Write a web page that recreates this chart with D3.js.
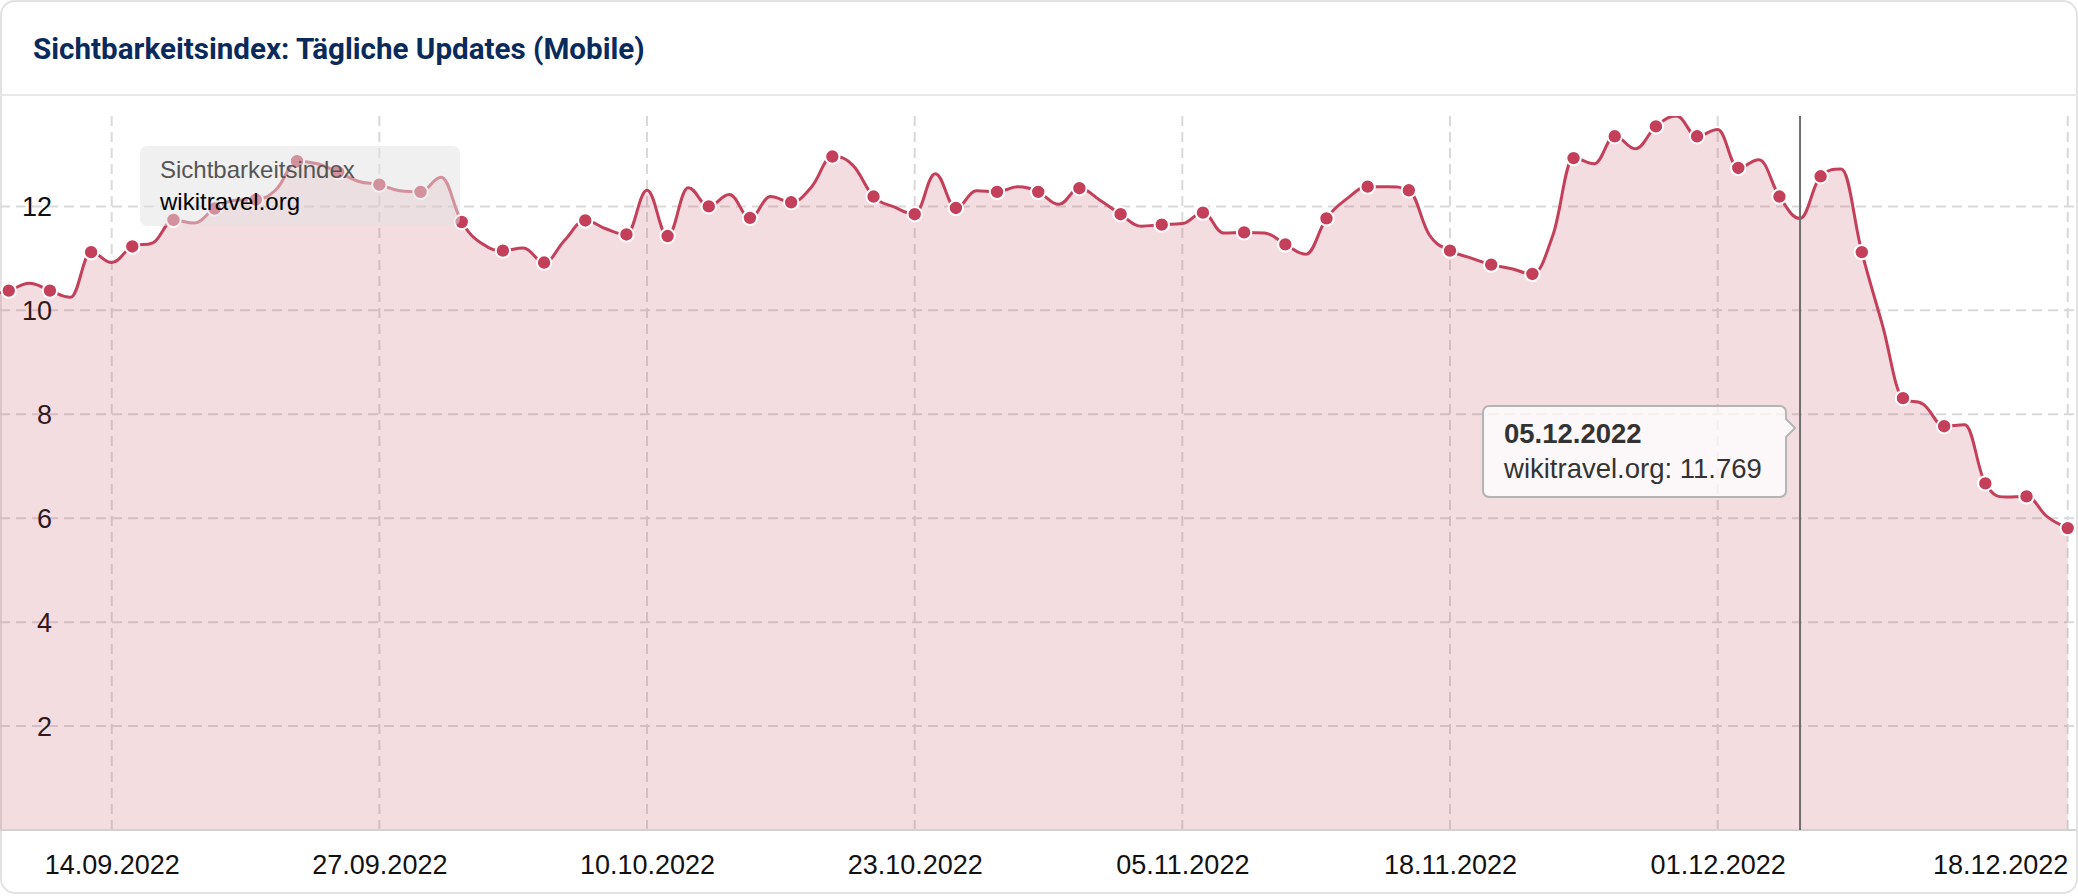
<!DOCTYPE html>
<html>
<head>
<meta charset="utf-8">
<script src="https://cdn.jsdelivr.net/npm/d3@7"></script>
<style>
  html, body { margin: 0; padding: 0; background: #ffffff; }
  svg { display: block; }
</style>
</head>
<body>
<svg id="chart" width="2078" height="896"></svg>
<script>
// ---------------- DATA ----------------
const chartTitle = "Sichtbarkeitsindex: Tägliche Updates (Mobile)";
const legendTitle = "Sichtbarkeitsindex";
const seriesName = "wikitravel.org";
const startDate = "08.09.2022";           // first daily value
const values = [
  10.30, 10.38, 10.52, 10.38, 10.25, 11.12, 10.92, 11.23, 11.30, 11.74,
  11.68, 11.96, 12.12, 12.13, 12.33, 12.87, 12.82, 12.66, 12.48, 12.42,
  12.30, 12.28, 12.56, 11.70, 11.28, 11.15, 11.20, 10.92, 11.35, 11.73,
  11.57, 11.46, 12.31, 11.43, 12.36, 12.00, 12.23, 11.78, 12.19, 12.08,
  12.38, 12.96, 12.79, 12.19, 11.99, 11.85, 12.63, 11.97, 12.30, 12.28,
  12.38, 12.28, 12.04, 12.35, 12.12, 11.85, 11.62, 11.65, 11.67, 11.88,
  11.49, 11.50, 11.49, 11.27, 11.08, 11.77, 12.15, 12.38, 12.38, 12.31,
  11.45, 11.15, 11.01, 10.88, 10.80, 10.70, 11.45, 12.93, 12.82, 13.35,
  13.11, 13.54, 13.74, 13.35, 13.48, 12.74, 12.90, 12.19, 11.769, 12.58,
  12.72, 11.12, 9.72, 8.31, 8.19, 7.77, 7.80, 6.67, 6.41, 6.42,
  6.03, 5.81
];
const xTickLabels = ["14.09.2022", "27.09.2022", "10.10.2022", "23.10.2022",
                     "05.11.2022", "18.11.2022", "01.12.2022", "18.12.2022"];
const yTickValues = [2, 4, 6, 8, 10, 12];
const tooltipDate = "05.12.2022";

// ---------------- SETUP ----------------
const W = 2078, H = 896;
const plot = { left: 0, right: 2076, top: 116, bottom: 830 };
const parse = d3.utcParse("%d.%m.%Y");
const fmtDate = d3.utcFormat("%d.%m.%Y");
const start = parse(startDate);
const data = values.map((v, i) => ({ date: d3.utcDay.offset(start, i), value: v, i }));
const markerData = data.filter(d => d.i % 2 === 1);

const x = d3.scaleUtc()
  .domain([parse(xTickLabels[0]), parse(xTickLabels[xTickLabels.length - 1])])
  .range([111.7, 2067.7]);
const y = d3.scaleLinear()
  .domain([0, d3.max(values)])
  .range([plot.bottom, plot.top]);

const RED = "#c4405a";
const FONT = "'Liberation Sans', Arial, Helvetica, sans-serif";

// Highcharts-like spline curve (smoothing 1.5, no false extremes)
function HCSpline(context) { this._context = context; }
HCSpline.prototype = {
  areaStart() { this._line = 0; },
  areaEnd() { this._line = NaN; },
  lineStart() { this._xs = []; this._ys = []; },
  point(px, py) { this._xs.push(+px); this._ys.push(+py); },
  lineEnd() {
    const xs = this._xs, ys = this._ys, n = xs.length, ctx = this._context;
    if (n) {
      if (this._line) ctx.lineTo(xs[0], ys[0]); else ctx.moveTo(xs[0], ys[0]);
      const L = new Array(n), R = new Array(n);
      for (let i = 0; i < n; i++) {
        if (i === 0 || i === n - 1) { L[i] = [xs[i], ys[i]]; R[i] = [xs[i], ys[i]]; continue; }
        const sm = 1.5, den = sm + 1;
        const px = xs[i], py = ys[i];
        const lx = xs[i - 1], ly = ys[i - 1], nx = xs[i + 1], ny = ys[i + 1];
        const lcx = (sm * px + lx) / den, rcx = (sm * px + nx) / den;
        let lcy = (sm * py + ly) / den, rcy = (sm * py + ny) / den;
        const corr = ((rcy - lcy) * (rcx - px)) / (rcx - lcx) + py - rcy;
        lcy += corr; rcy += corr;
        if (lcy > ly && lcy > py) { lcy = Math.max(ly, py); rcy = 2 * py - lcy; }
        else if (lcy < ly && lcy < py) { lcy = Math.min(ly, py); rcy = 2 * py - lcy; }
        if (rcy > ny && rcy > py) { rcy = Math.max(ny, py); lcy = 2 * py - rcy; }
        else if (rcy < ny && rcy < py) { rcy = Math.min(ny, py); lcy = 2 * py - rcy; }
        L[i] = [lcx, lcy]; R[i] = [rcx, rcy];
      }
      for (let i = 1; i < n; i++) {
        ctx.bezierCurveTo(R[i - 1][0], R[i - 1][1], L[i][0], L[i][1], xs[i], ys[i]);
      }
    }
    if (this._line || (this._line !== 0 && n === 1)) ctx.closePath();
    this._line = 1 - this._line;
  }
};
const hcSpline = ctx => new HCSpline(ctx);

// ---------------- DRAW ----------------
const svg = d3.select("#chart");

svg.append("defs").append("clipPath").attr("id", "plotClip")
  .append("rect")
  .attr("x", plot.left).attr("y", plot.top)
  .attr("width", plot.right - plot.left).attr("height", plot.bottom - plot.top);

// card
svg.append("rect")
  .attr("x", 1).attr("y", 1).attr("width", W - 2).attr("height", H - 4)
  .attr("rx", 14).attr("fill", "#ffffff")
  .attr("stroke", "#e2e2e2").attr("stroke-width", 2);

// title
svg.append("text")
  .attr("x", 33).attr("y", 59)
  .attr("font-family", "Roboto, 'Noto Sans', sans-serif")
  .attr("font-weight", 700).attr("font-size", 29.6)
  .attr("fill", "#0b2a5c")
  .text(chartTitle);
svg.append("line")
  .attr("x1", 0).attr("x2", W).attr("y1", 95).attr("y2", 95)
  .attr("stroke", "#e8e8e8").attr("stroke-width", 2);

// grid
const grid = svg.append("g");
grid.selectAll("line.h").data(yTickValues).join("line")
  .attr("class", "h")
  .attr("x1", plot.left).attr("x2", plot.right)
  .attr("y1", d => y(d)).attr("y2", d => y(d))
  .attr("stroke", "#d9d9d9").attr("stroke-width", 2)
  .attr("stroke-dasharray", "10,6");
grid.selectAll("line.v").data(xTickLabels).join("line")
  .attr("class", "v")
  .attr("x1", d => x(parse(d))).attr("x2", d => x(parse(d)))
  .attr("y1", plot.top).attr("y2", plot.bottom)
  .attr("stroke", "#d9d9d9").attr("stroke-width", 2)
  .attr("stroke-dasharray", "10,6");

// y axis labels (under the area fill)
const yAxis = d3.axisLeft(y).tickValues(yTickValues).tickSize(0).tickPadding(0)
  .tickFormat(d3.format("d"));
const yG = svg.append("g").attr("transform", "translate(52,0)").call(yAxis);
yG.select(".domain").remove();
yG.selectAll("text")
  .attr("font-family", FONT).attr("font-size", 27)
  .attr("fill", "#111111").attr("dy", "0.34em");

// area + line
const series = svg.append("g").attr("clip-path", "url(#plotClip)");
series.append("path").datum(data)
  .attr("d", d3.area().x(d => x(d.date)).y0(plot.bottom).y1(d => y(d.value)).curve(hcSpline))
  .attr("fill", RED).attr("fill-opacity", 0.18);

// axis line
svg.append("line")
  .attr("x1", plot.left).attr("x2", plot.right)
  .attr("y1", plot.bottom).attr("y2", plot.bottom)
  .attr("stroke", "#d2d2d2").attr("stroke-width", 2);

// crosshair
const tipDate = parse(tooltipDate);
const tipPoint = data.find(d => +d.date === +tipDate);
svg.append("line")
  .attr("x1", x(tipDate)).attr("x2", x(tipDate))
  .attr("y1", plot.top).attr("y2", plot.bottom)
  .attr("stroke", "#6e6e6e").attr("stroke-width", 2);

series.append("path").datum(data)
  .attr("d", d3.line().x(d => x(d.date)).y(d => y(d.value)).curve(hcSpline))
  .attr("fill", "none").attr("stroke", RED).attr("stroke-width", 3);

series.selectAll("circle").data(markerData).join("circle")
  .attr("cx", d => x(d.date)).attr("cy", d => y(d.value))
  .attr("r", 7.2).attr("fill", RED)
  .attr("stroke", "#ffffff").attr("stroke-width", 2);

// x axis labels
const xAxis = d3.axisBottom(x).tickValues(xTickLabels.map(parse)).tickSize(0).tickPadding(0)
  .tickFormat(fmtDate);
const xG = svg.append("g").attr("transform", `translate(0,${plot.bottom})`).call(xAxis);
xG.select(".domain").remove();
xG.selectAll("text")
  .attr("font-family", FONT).attr("font-size", 27)
  .attr("fill", "#111111").attr("y", 44).attr("dy", 0)
  .attr("text-anchor", (d, i) => i === xTickLabels.length - 1 ? "end" : "middle");

// legend box (semi-transparent over the series)
const lg = svg.append("g");
lg.append("rect")
  .attr("x", 140).attr("y", 146).attr("width", 320).attr("height", 80).attr("rx", 7)
  .attr("fill", "#e2e2e2").attr("fill-opacity", 0.5);
lg.append("text").attr("x", 160).attr("y", 178)
  .attr("font-family", FONT).attr("font-size", 24).attr("fill", "#555555")
  .text(legendTitle);
lg.append("text").attr("x", 160).attr("y", 210)
  .attr("font-family", FONT).attr("font-size", 24).attr("fill", "#000000")
  .text(seriesName);

// tooltip
const tx = x(tipDate);
const bx1 = tx - 317, bx2 = tx - 14, by1 = 406, by2 = 497, r = 6, ay = 428;
const tipPath = d3.path();
tipPath.moveTo(bx1 + r, by1);
tipPath.lineTo(bx2 - r, by1);
tipPath.arcTo(bx2, by1, bx2, by1 + r, r);
tipPath.lineTo(bx2, ay - 9);
tipPath.lineTo(bx2 + 9, ay);
tipPath.lineTo(bx2, ay + 9);
tipPath.lineTo(bx2, by2 - r);
tipPath.arcTo(bx2, by2, bx2 - r, by2, r);
tipPath.lineTo(bx1 + r, by2);
tipPath.arcTo(bx1, by2, bx1, by2 - r, r);
tipPath.lineTo(bx1, by1 + r);
tipPath.arcTo(bx1, by1, bx1 + r, by1, r);
tipPath.closePath();
const tg = svg.append("g");
tg.append("path").attr("d", tipPath.toString())
  .attr("fill", "#ffffff").attr("fill-opacity", 0.75)
  .attr("stroke", "#b4b4b4").attr("stroke-width", 2);
tg.append("text").attr("x", bx1 + 21).attr("y", 443)
  .attr("font-family", FONT).attr("font-size", 27.5).attr("font-weight", 700)
  .attr("fill", "#333333").text(fmtDate(tipDate));
tg.append("text").attr("x", bx1 + 21).attr("y", 478)
  .attr("font-family", FONT).attr("font-size", 27.5)
  .attr("fill", "#333333").text(`${seriesName}: ${d3.format(".3f")(tipPoint.value)}`);
</script>
</body>
</html>
